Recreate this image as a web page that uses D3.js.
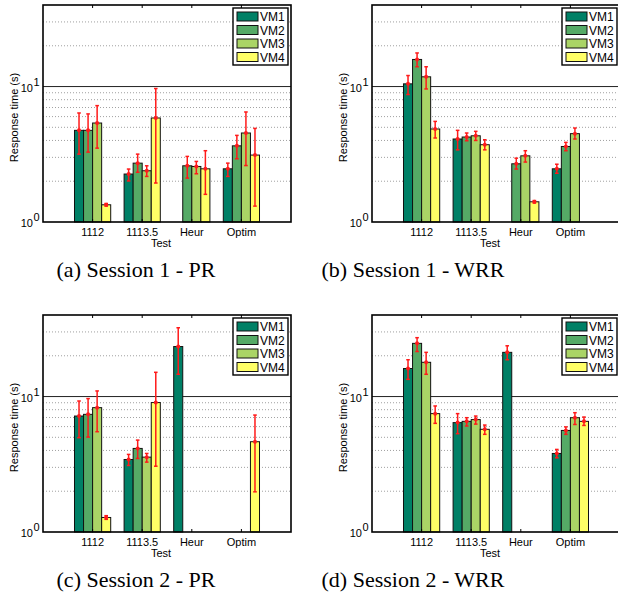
<!DOCTYPE html>
<html>
<head>
<meta charset="utf-8">
<script src="https://cdn.jsdelivr.net/npm/d3@7"></script>
<style>
  body { margin: 0; background: #fff; }
  svg { display: block; }
  .tick-label { font-family: "Liberation Sans", Arial, sans-serif; font-size: 11px; fill: #000; }
  .axisText { font-family: "Liberation Sans", Arial, sans-serif; font-size: 11px; fill: #000; }
  .legendText { font-family: "Liberation Sans", Arial, sans-serif; font-size: 12px; fill: #000; }
  .caption { font-family: "Liberation Serif", "Times New Roman", serif; font-size: 22px; fill: #000; }
</style>
</head>
<body>
<div id="chart"></div>
<script>
// categories / series
var categories = ["1112", "1113.5", "Heur", "Optim"];
var series = ["VM1", "VM2", "VM3", "VM4"];
var colors = ["#008066", "#55aa66", "#aad466", "#ffff66"];
var yTicks = [1, 10];

// rows = categories, columns = VM1..VM4 (null = no bar)
// (a) Session 1 - PR
var s1prMean = [[4.75, 4.75, 5.38, 1.34], [2.26, 2.72, 2.39, 5.86], [null, 2.6, 2.57, 2.47], [2.47, 3.65, 4.54, 3.12]];
var s1prLow  = [[3.17, 3.28, 3.51, 1.31], [2.01, 2.33, 2.17, 1.94], [null, 2.11, 2.27, 1.6], [2.17, 2.93, 2.61, 1.31]];
var s1prHigh = [[6.38, 6.28, 7.23, 1.37], [2.46, 3.17, 2.6, 9.67], [null, 3.05, 2.8, 3.36], [2.72, 4.36, 6.49, 4.91]];

// (b) Session 1 - WRR
var s1wrrMean = [[10.47, 15.85, 11.8, 4.86], [4.1, 4.24, 4.33, 3.72], [null, 2.69, 3.08, 1.41], [2.47, 3.61, 4.49, null]];
var s1wrrLow  = [[8.73, 14.0, 9.6, 4.17], [3.41, 3.98, 4.0, 3.41], [null, 2.46, 2.77, 1.38], [2.29, 3.36, 4.1, null]];
var s1wrrHigh = [[12.06, 17.7, 14.0, 5.53], [4.75, 4.54, 4.67, 4.05], [null, 2.96, 3.36, 1.44], [2.67, 3.87, 4.94, null]];

// (c) Session 2 - PR
var s2prMean = [[7.18, 7.39, 8.28, 1.28], [3.43, 4.14, 3.57, 9.03], [23.4, null, null, null], [null, null, null, 4.64]];
var s2prLow  = [[4.97, 5.02, 5.5, 1.24], [3.1, 3.49, 3.28, 3.06], [14.6, null, null, null], [null, null, null, 1.98]];
var s2prHigh = [[9.27, 9.66, 11.0, 1.32], [3.74, 4.77, 3.8, 15.1], [32.2, null, null, null], [null, null, null, 7.3]];

// (d) Session 2 - WRR
var s2wrrMean = [[16.1, 24.7, 17.9, 7.48], [6.42, 6.56, 6.76, 5.73], [21.2, null, null, null], [3.8, 5.62, 6.98, 6.56]];
var s2wrrLow  = [[13.4, 21.5, 14.6, 6.34], [5.32, 6.06, 6.26, 5.26], [18.7, null, null, null], [3.53, 5.26, 6.22, 6.12]];
var s2wrrHigh = [[18.7, 27.2, 21.2, 8.52], [7.48, 6.98, 7.18, 6.16], [23.7, null, null, null], [4.07, 5.97, 7.6, 7.06]];

var panels = [
  { left: 43, top: 5, caption: "(a) Session 1 - PR", capX: 136, mean: s1prMean, low: s1prLow, high: s1prHigh },
  { left: 372, top: 5, caption: "(b) Session 1 - WRR", capX: 413, mean: s1wrrMean, low: s1wrrLow, high: s1wrrHigh },
  { left: 43, top: 315, caption: "(c) Session 2 - PR", capX: 136, mean: s2prMean, low: s2prLow, high: s2prHigh },
  { left: 372, top: 315, caption: "(d) Session 2 - WRR", capX: 413, mean: s2wrrMean, low: s2wrrLow, high: s2wrrHigh }
];

var svgWidth = 618;
var svgHeight = 602;
var width = 248;
var height = 217;
var groupWidth = 0.73;

var svg = d3.select("#chart")
  .append("svg")
  .attr("width", svgWidth)
  .attr("height", svgHeight);

panels.forEach(function(p) {
  var g = svg.append("g")
    .attr("transform", `translate(${p.left}, ${p.top})`);

  var x = d3.scaleLinear().domain([0, 5]).range([0, width]);
  var y = d3.scaleLog().domain([1, 40]).range([height, 0]);
  var barW = x(groupWidth / 4) - x(0);

  // grid lines
  var minor = [2, 3, 4, 5, 6, 7, 8, 9, 20, 30];
  g.selectAll(".minor")
    .data(minor)
    .enter()
    .append("line")
    .attr("x1", 0)
    .attr("x2", width)
    .attr("y1", d => y(d))
    .attr("y2", d => y(d))
    .attr("stroke", "#888")
    .attr("stroke-width", 0.8)
    .attr("stroke-dasharray", "1,2");
  g.append("line")
    .attr("x1", 0).attr("x2", width)
    .attr("y1", y(10)).attr("y2", y(10))
    .attr("stroke", "#222")
    .attr("stroke-width", 1);

  // flatten rows into bar records
  var bars = [];
  p.mean.forEach(function(row, ci) {
    row.forEach(function(v, si) {
      if (v == null) return;
      bars.push({ c: ci, s: si, v: v, lo: p.low[ci][si], hi: p.high[ci][si] });
    });
  });
  var barX = d => x(d.c + 1 - groupWidth / 2 + d.s * groupWidth / 4);

  g.selectAll(".bar")
    .data(bars)
    .enter()
    .append("rect")
    .attr("x", d => barX(d))
    .attr("y", d => y(d.v))
    .attr("width", barW)
    .attr("height", d => y(1) - y(d.v))
    .attr("fill", d => colors[d.s])
    .attr("stroke", "#111")
    .attr("stroke-width", 1);

  // error bars
  var eb = g.selectAll(".err")
    .data(bars)
    .enter()
    .append("g")
    .attr("stroke", "#ff1a1a")
    .attr("fill", "#ff1a1a");
  eb.append("line")
    .attr("x1", d => barX(d) + barW / 2)
    .attr("x2", d => barX(d) + barW / 2)
    .attr("y1", d => y(d.lo))
    .attr("y2", d => y(d.hi))
    .attr("stroke-width", 1.5);
  eb.append("line")
    .attr("x1", d => barX(d) + barW / 2 - 1.8)
    .attr("x2", d => barX(d) + barW / 2 + 1.8)
    .attr("y1", d => y(d.lo))
    .attr("y2", d => y(d.lo))
    .attr("stroke-width", 1.5);
  eb.append("line")
    .attr("x1", d => barX(d) + barW / 2 - 1.8)
    .attr("x2", d => barX(d) + barW / 2 + 1.8)
    .attr("y1", d => y(d.hi))
    .attr("y2", d => y(d.hi))
    .attr("stroke-width", 1.5);
  eb.append("circle")
    .attr("cx", d => barX(d) + barW / 2)
    .attr("cy", d => y(d.v))
    .attr("r", 2)
    .attr("stroke", "none");

  // frame + inward ticks
  g.append("rect")
    .attr("width", width)
    .attr("height", height)
    .attr("fill", "none")
    .attr("stroke", "#000")
    .attr("stroke-width", 1.6);
  categories.forEach(function(c, i) {
    g.append("line").attr("x1", x(i + 1)).attr("x2", x(i + 1)).attr("y1", 0).attr("y2", 3).attr("stroke", "#000");
    g.append("line").attr("x1", x(i + 1)).attr("x2", x(i + 1)).attr("y1", height).attr("y2", height - 3).attr("stroke", "#000");
  });

  // x labels
  g.selectAll(".xl")
    .data(categories)
    .enter()
    .append("text")
    .attr("class", "tick-label")
    .attr("x", (d, i) => x(i + 1))
    .attr("y", height + 14)
    .attr("text-anchor", "middle")
    .text(d => d);
  g.append("text")
    .attr("class", "axisText")
    .attr("x", width / 2 - 6)
    .attr("y", height + 25)
    .attr("text-anchor", "middle")
    .text("Test");

  // y labels 10^0, 10^1
  yTicks.forEach(function(t) {
    g.append("text")
      .attr("class", "tick-label")
      .attr("x", -10)
      .attr("y", y(t) + 5)
      .attr("text-anchor", "end")
      .text("10");
    g.append("text")
      .attr("class", "tick-label")
      .attr("x", -9.5)
      .attr("y", y(t) - 1)
      .attr("font-size", "8px")
      .text(Math.log10(t));
  });
  g.append("text")
    .attr("class", "axisText")
    .attr("transform", "rotate(-90)")
    .attr("x", -(height / 2) - 4)
    .attr("y", -25)
    .attr("text-anchor", "middle")
    .text("Response time (s)");

  // legend
  var lg = g.append("g")
    .attr("transform", `translate(${width - 58}, 3)`);
  lg.append("rect")
    .attr("width", 55)
    .attr("height", 57)
    .attr("fill", "#fff")
    .attr("stroke", "#000")
    .attr("stroke-width", 1.4);
  series.forEach(function(s, i) {
    lg.append("rect")
      .attr("x", 4)
      .attr("y", 4 + i * 13.5)
      .attr("width", 21)
      .attr("height", 9)
      .attr("fill", colors[i])
      .attr("stroke", "#111");
    lg.append("text")
      .attr("class", "legendText")
      .attr("x", 27)
      .attr("y", 13 + i * 13.5)
      .text(s);
  });

  // caption
  svg.append("text")
    .attr("class", "caption")
    .attr("x", p.capX)
    .attr("y", p.top + 272)
    .attr("text-anchor", "middle")
    .text(p.caption);
});
</script>
</body>
</html>
